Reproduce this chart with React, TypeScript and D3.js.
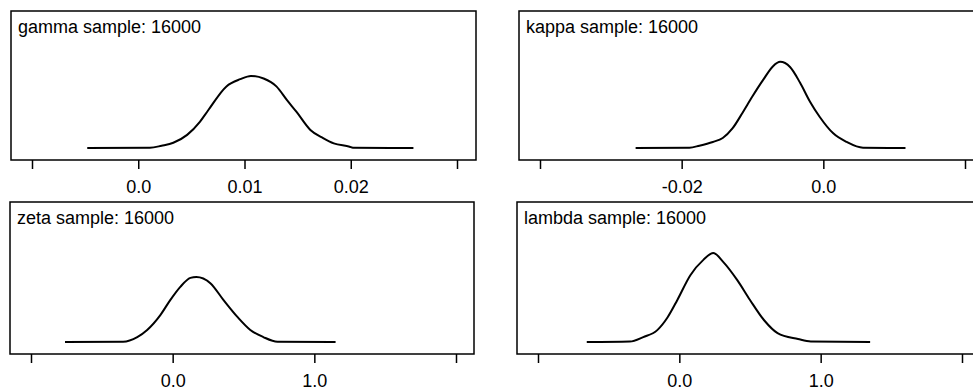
import React, { useEffect, useRef } from 'react';
import * as d3 from 'd3';

// panel names and sample size
const names = ['gamma', 'kappa', 'zeta', 'lambda'];
const sampleSize = 16000;

// density curves (x value, density)
const gammaX = [-0.0048, 0.0011, 0.0022, 0.0033, 0.0046, 0.0058, 0.0066, 0.0083, 0.0096, 0.0106, 0.0118, 0.0130, 0.0140, 0.0149, 0.0162, 0.0174, 0.0184, 0.0199, 0.0202, 0.0259];
const gammaY = [0, 0.3, 3.5, 8, 20, 40, 58, 94, 105, 110, 106, 94, 73, 55, 27.5, 15, 7, 2, 0.5, 0];

const kappaX = [-0.0265, -0.0189, -0.0175, -0.0156, -0.0142, -0.0128, -0.0114, -0.0100, -0.0085, -0.0071, -0.0061, -0.0047, -0.0033, -0.0019, -0.0005, 0.0014, 0.0033, 0.0056, 0.0116];
const kappaY = [0, 0.3, 2.7, 7, 11.6, 23, 41, 60, 79, 95, 100, 94, 76, 54, 36, 17, 7, 0.3, 0];

const zetaX = [-0.76, -0.35, -0.25, -0.18, -0.087, -0.016, 0.054, 0.125, 0.167, 0.266, 0.358, 0.457, 0.548, 0.64, 0.74, 1.15];
const zetaY = [0, 0.01, 0.16, 0.39, 0.87, 1.36, 1.78, 2.07, 2.1, 1.9, 1.36, 0.81, 0.39, 0.16, 0.01, 0];

const lambdaX = [-0.655, -0.35, -0.255, -0.156, -0.085, -0.014, 0.078, 0.17, 0.24, 0.31, 0.41, 0.50, 0.60, 0.695, 0.84, 0.93, 1.35];
const lambdaY = [0, 0.01, 0.1, 0.24, 0.49, 0.85, 1.35, 1.66, 1.8, 1.62, 1.25, 0.85, 0.44, 0.18, 0.06, 0.01, 0];

// axis ticks (first and last are unlabelled)
const gammaTicks = [-0.01, 0.0, 0.01, 0.02, 0.03];
const gammaLabels = ['', '0.0', '0.01', '0.02', ''];
const kappaTicks = [-0.04, -0.02, 0.0, 0.02];
const kappaLabels = ['', '-0.02', '0.0', ''];
const zetaTicks = [-1, 0, 1, 2];
const zetaLabels = ['', '0.0', '1.0', ''];
const lambdaTicks = [-1, 0, 1, 2];
const lambdaLabels = ['', '0.0', '1.0', ''];

const W = 973;
const H = 392;
const FONT = 'Arial, "Liberation Sans", sans-serif';

export default function App() {
  const ref = useRef<SVGSVGElement>(null);

  function draw() {
    var svg = d3.select(ref.current);
    svg.selectAll('*').remove();

    // box geometry, first/last tick pixel positions, y max
    var panels = [
      { name: names[0], xs: gammaX, ys: gammaY, ticks: gammaTicks, labels: gammaLabels, left: 11, right: 476, top: 11, bottom: 160, tickPx: [32, 457], yMax: 209 },
      { name: names[1], xs: kappaX, ys: kappaY, ticks: kappaTicks, labels: kappaLabels, left: 519, right: 984, top: 11, bottom: 160, tickPx: [540, 965], yMax: 159 },
      { name: names[2], xs: zetaX, ys: zetaY, ticks: zetaTicks, labels: zetaLabels, left: 10, right: 474, top: 202, bottom: 354, tickPx: [31, 456], yMax: 4.52 },
      { name: names[3], xs: lambdaX, ys: lambdaY, ticks: lambdaTicks, labels: lambdaLabels, left: 517, right: 981, top: 202, bottom: 354, tickPx: [538, 962], yMax: 2.83 },
    ];

    panels.forEach(function (p) {
      var g = svg.append('g');

      var x = d3.scaleLinear()
        .domain([p.ticks[0], p.ticks[p.ticks.length - 1]])
        .range(p.tickPx);
      var y = d3.scaleLinear()
        .domain([0, p.yMax])
        .range([p.bottom - 12, p.top]);

      // frame
      g.append('rect')
        .attr('x', p.left)
        .attr('y', p.top)
        .attr('width', p.right - p.left)
        .attr('height', p.bottom - p.top)
        .attr('fill', 'none')
        .attr('stroke', '#000')
        .attr('stroke-width', 1.5);

      // ticks
      var axis = d3.axisBottom(x)
        .tickValues(p.ticks)
        .tickSize(9)
        .tickPadding(11)
        .tickFormat(function (d, i) { return p.labels[i]; });
      var ax = g.append('g')
        .attr('transform', 'translate(0,' + p.bottom + ')')
        .call(axis);
      ax.select('.domain').remove();
      ax.selectAll('line').attr('stroke', '#000').attr('stroke-width', 1.5);
      ax.selectAll('text')
        .attr('fill', '#000')
        .attr('font-size', 18)
        .attr('font-family', FONT);

      // density line
      var pts = p.xs.map(function (v, i) { return [v, p.ys[i]]; });
      var line = d3.line<number[]>()
        .x(function (d) { return x(d[0]); })
        .y(function (d) { return y(d[1]); })
        .curve(d3.curveMonotoneX);
      g.append('path')
        .attr('d', line(pts))
        .attr('fill', 'none')
        .attr('stroke', '#000')
        .attr('stroke-width', 2);

      // title
      g.append('text')
        .attr('x', p.left + 7)
        .attr('y', p.top + 22)
        .attr('font-size', 18)
        .attr('font-family', FONT)
        .attr('fill', '#000')
        .text(p.name + ' sample: ' + sampleSize);
    });
  }

  useEffect(() => {
    draw();
  }, []);

  return (
    <div style={{ position: 'absolute', left: 0, top: 0, width: W, height: H, overflow: 'hidden', background: '#fff' }}>
      <svg ref={ref} width={W} height={H} style={{ display: 'block' }} />
    </div>
  );
}
